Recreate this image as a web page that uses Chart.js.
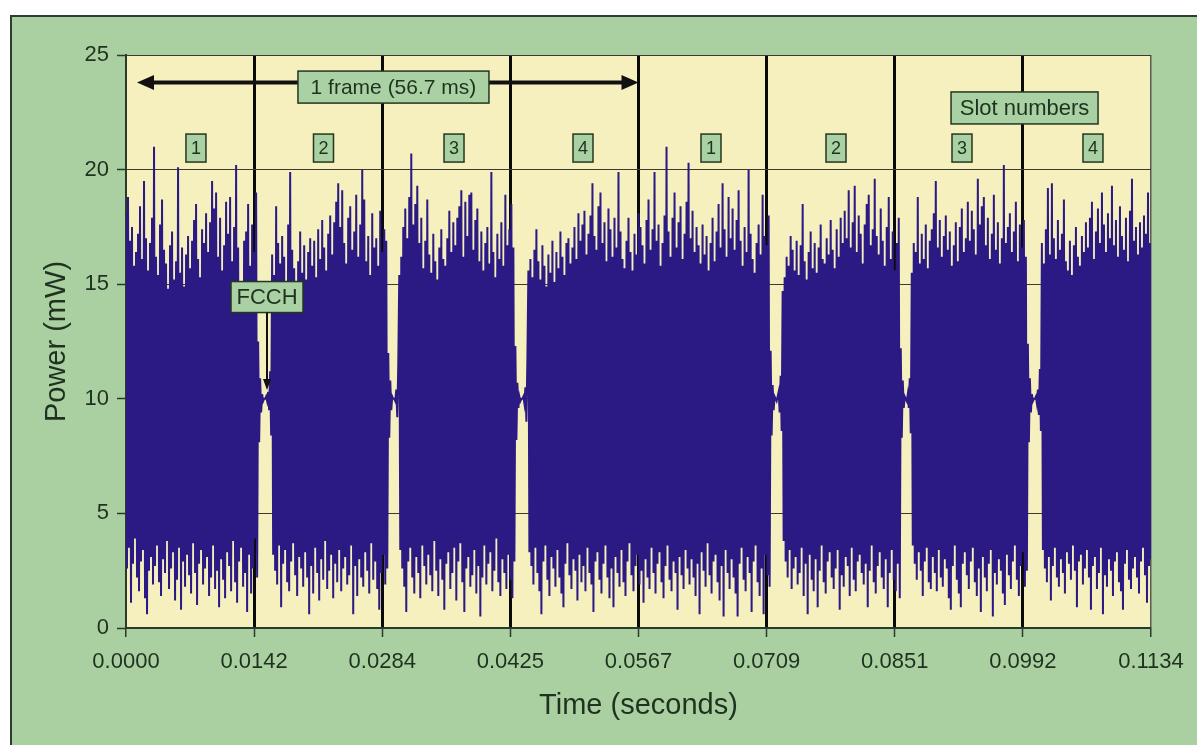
<!DOCTYPE html>
<html><head><meta charset="utf-8">
<script src="https://cdn.jsdelivr.net/npm/chart.js@4"></script>
<style>
html,body{margin:0;padding:0;background:#fff;}
#panel{position:absolute;left:10px;top:15px;width:1187px;height:730px;background:#aad0a2;border-top:2px solid #2e3e2e;border-left:2px solid #2e3e2e;box-sizing:border-box;}
canvas{display:block;}
</style></head><body>
<div id="panel"><canvas id="c" width="1185" height="728"></canvas></div>
<script>
// ---- data (power in mW, sampled uniformly in time) ----
const sampleInterval = 0.1134 / 1024; // seconds between samples
const burst1 = [
18.2,2.6, 18.8,3.5, 16.9,1.1, 17.5,2.8, 15.8,3.9, 16.4,2.2, 17.2,1.6, 18.4,2.9, 16.1,3.4, 19.5,1.3,
17.0,0.6, 15.6,2.5, 16.8,3.1, 17.9,1.9, 21.0,2.7, 16.2,3.6, 15.4,2.0, 17.6,1.4, 18.7,3.0, 16.5,2.4,
15.9,3.8, 14.8,1.7, 16.7,2.6, 17.3,3.3, 15.2,1.2, 16.0,2.1, 20.1,3.5, 15.5,0.8, 16.6,2.9, 14.9,1.8,
16.3,3.2, 17.1,2.3, 15.7,1.5, 16.9,3.7, 17.8,2.4, 18.5,1.0, 16.1,2.8, 15.3,3.4, 17.4,1.9, 16.8,2.6,
18.1,3.1, 16.4,1.4, 17.7,2.2, 19.5,3.6, 18.3,1.7, 19.0,2.5, 16.2,0.9, 17.9,3.0, 15.6,2.1, 16.7,1.3,
18.6,3.3, 17.2,2.7, 18.8,1.6, 16.0,3.8, 17.5,2.0, 20.2,1.1, 16.6,2.9, 15.1,3.5, 14.7,1.8, 16.9,2.4,
17.3,0.7, 18.5,3.2, 15.8,1.5, 17.6,2.6, 16.4,3.9, 19.0,2.2];
const gap1 = [12.5,8.1,10.9,9.4,10.2,9.9,10.0,10.0,10.1,9.9,10.3,9.5,11.2,8.4];
const burst2 = [
16.3,3.2, 15.4,2.5, 18.4,1.9, 16.8,3.6, 15.9,0.9, 17.1,2.8, 16.2,3.4, 15.0,2.0, 17.6,1.6, 19.9,2.9,
16.5,3.7, 15.7,2.3, 14.9,1.4, 16.0,3.1, 17.3,2.6, 15.5,1.8, 16.7,3.3, 15.2,2.2, 16.4,0.6, 17.0,2.7,
15.8,1.5, 16.9,3.5, 15.3,2.4, 17.4,1.2, 16.1,3.0, 17.8,2.1, 16.6,3.8, 15.6,1.7, 17.2,2.5, 18.0,3.2,
16.3,1.3, 17.7,2.8, 18.6,2.0, 19.4,3.4, 17.5,1.6, 19.1,2.6, 16.8,3.1, 15.9,1.9, 17.9,2.3, 18.4,3.6,
16.5,0.6, 17.3,2.7, 18.9,1.4, 16.2,3.0, 17.6,2.2, 20.0,1.8, 18.7,3.3, 16.0,2.5, 17.1,1.5, 15.4,3.7,
18.1,2.1, 16.6,2.9, 17.0,1.7, 15.8,0.8, 18.2,2.4, 16.4,3.2, 17.4,1.9, 16.9,2.6];
const gap2 = [12.0,8.3,10.8,9.5,10.1,10.0,10.0,9.9,10.4,9.2,11.5];
const burst3 = [
15.4,3.4, 16.2,2.6, 17.5,1.8, 18.3,0.7, 17.0,2.9, 18.8,3.5, 20.7,2.2, 17.6,1.5, 18.5,3.1, 19.3,2.4,
16.8,1.3, 17.9,3.6, 15.7,2.7, 16.9,1.9, 18.7,3.2, 16.3,2.3, 15.5,1.6, 17.2,3.8, 16.0,2.5, 15.2,1.4,
16.6,3.0, 17.4,2.1, 16.1,0.8, 15.8,2.8, 17.0,3.3, 18.2,1.7, 16.4,2.4, 17.7,3.5, 16.7,1.2, 17.9,2.9,
18.4,3.7, 19.1,2.0, 16.2,0.7, 18.6,2.6, 17.1,3.1, 18.9,1.8, 19.0,2.3, 16.5,3.4, 17.8,1.5, 18.3,2.7,
16.0,0.5, 17.3,2.2, 15.6,3.6, 16.8,1.9, 17.5,2.8, 15.9,3.3, 19.9,1.6, 16.4,2.5, 15.3,3.9, 17.2,2.0,
16.1,1.4, 17.7,3.0, 15.8,2.4, 18.9,1.7, 16.7,3.2, 17.4,2.1, 18.5,1.3, 16.6,2.9];
const gap3 = [12.3,8.2,10.7,9.6,10.1,9.9,10.0,10.0,10.1,9.8,10.5,9.0,11.8];
const burst4 = [
15.6,3.3, 16.1,2.7, 15.3,1.9, 16.5,3.5, 17.4,2.4, 16.0,1.6, 15.2,0.6, 16.7,2.9, 15.8,3.6, 14.9,2.1,
16.3,1.4, 15.5,3.1, 16.9,2.6, 15.1,1.8, 16.4,3.4, 15.7,2.2, 17.3,1.5, 16.2,0.9, 15.4,2.8, 16.8,3.7,
17.0,2.3, 15.9,1.7, 16.6,3.0, 17.5,2.5, 16.1,1.2, 18.1,3.2, 16.9,2.0, 17.6,2.7, 18.2,1.6, 16.3,3.5,
17.2,2.4, 18.0,1.9, 19.4,0.7, 17.1,2.9, 16.5,3.3, 18.4,2.1, 19.0,1.5, 16.8,2.8, 17.7,3.6, 16.0,2.2,
18.3,1.3, 17.4,2.6, 16.2,0.9, 17.9,3.1, 16.6,2.4, 19.9,1.8, 17.3,3.4, 16.1,2.0, 15.7,1.4, 16.9,2.9,
17.9,3.7, 16.4,2.3, 15.6,1.6, 17.2,2.7, 16.3,3.2, 18.1,1.9, 17.5,2.5, 16.7,1.1, 15.9,3.0, 17.8,2.2,
18.7,1.7, 16.5,3.5, 17.4,2.4, 19.9,1.5, 16.9,2.8, 17.6,3.3, 15.8,2.0, 16.8,1.3, 18.0,2.7, 21.0,3.6,
17.3,2.1, 16.2,1.6, 17.9,2.9, 19.0,2.4, 16.6,0.8, 17.7,3.1, 18.4,2.3, 16.1,1.7, 17.2,3.4, 18.6,2.6,
20.3,1.9, 17.0,3.0, 18.2,2.2, 16.4,1.4, 17.5,2.8, 16.7,0.6, 15.9,3.3, 17.6,2.5, 16.3,1.8, 17.1,3.7,
15.6,2.3, 16.8,1.5, 17.9,2.9, 16.0,3.2, 17.3,2.0, 18.5,1.2, 16.6,2.7, 19.4,0.5, 17.4,3.4, 16.2,2.4,
18.8,1.7, 17.0,3.0, 18.3,2.2, 16.5,1.5, 17.8,0.5, 19.1,2.8, 16.9,3.5, 15.8,2.1, 17.5,1.6, 16.4,3.1,
20.0,2.4, 17.2,0.7, 16.1,2.9, 15.5,3.6, 16.8,2.0, 17.6,1.4, 16.3,2.6, 18.9,0.6, 17.1,3.2, 16.7,2.3,
18.0,1.8];
const gap4 = [12.1,8.4,10.6,9.5,10.1,10.0,9.9,10.1,10.3,9.4,11.0,8.6];
const burst5 = [
14.7,3.8, 15.3,2.9, 16.2,2.2, 15.8,3.4, 17.1,1.7, 16.5,2.6, 15.6,3.1, 16.9,1.9, 15.4,2.4, 16.7,3.5,
18.5,1.4, 16.0,2.8, 15.2,0.6, 16.4,3.2, 17.3,2.1, 15.7,1.6, 16.8,3.0, 15.5,0.9, 16.6,2.5, 17.6,3.6,
16.1,2.0, 15.9,1.5, 17.0,2.9, 16.3,3.3, 17.8,2.2, 16.5,1.7, 15.7,2.6, 17.4,3.4, 16.2,0.8, 17.9,2.3,
16.8,1.8, 18.2,3.1, 17.0,2.7, 19.1,1.4, 16.6,3.5, 17.7,2.1, 19.3,1.6, 16.4,2.9, 18.0,3.2, 17.2,2.4,
15.9,1.9, 17.6,2.8, 18.5,0.9, 18.9,2.5, 16.7,3.6, 17.4,2.0, 19.6,1.5, 17.1,2.7, 16.3,3.3, 18.3,2.2,
16.9,1.7, 15.8,3.0, 17.5,0.9, 18.8,2.4, 16.1,3.4, 17.3,2.1, 15.6,1.6, 16.8,2.8, 17.9,1.3];
const gap5 = [12.2,8.3,10.8,9.6,10.1,10.0,9.9,10.2,9.6,10.9,8.5];
const burst6 = [
15.5,3.6, 16.8,2.8, 16.4,2.1, 18.8,3.3, 15.9,2.5, 17.2,1.4, 16.1,2.9, 17.6,3.5, 15.7,2.0, 16.9,1.7,
17.4,3.1, 18.1,2.4, 19.5,1.6, 16.6,3.4, 17.8,2.2, 16.2,1.8, 17.1,3.0, 18.0,2.6, 16.5,1.3, 17.3,0.8,
15.8,2.7, 16.7,3.6, 17.7,2.1, 16.0,1.5, 17.5,0.9, 18.3,2.8, 16.4,3.3, 17.0,2.3, 18.6,1.7, 16.9,2.9,
18.2,3.5, 17.4,2.0, 16.3,1.4, 19.6,2.6, 17.6,0.7, 18.4,3.1, 18.8,2.2, 16.7,1.6, 17.9,2.8, 16.1,3.4,
17.2,0.5, 18.9,2.4, 16.5,1.9, 17.7,3.0, 15.9,2.5, 17.0,1.5, 20.2,1.0, 16.8,3.2, 17.5,2.3, 18.1,1.7,
16.4,2.9, 17.3,3.6, 18.6,2.1, 16.0,1.4, 17.6,2.7, 16.6,3.3, 17.8,1.8, 16.2,2.5];
const gap6 = [12.4,8.1,10.9,9.4,10.2,9.9,10.0,10.0,10.1,9.8,10.4,9.3,11.3,8.6];
const burst7 = [
16.8,3.4, 15.9,2.6, 17.4,2.0, 19.2,3.1, 16.3,1.2, 19.4,2.7, 17.0,3.5, 16.1,2.2, 17.8,1.8, 16.5,3.0,
17.2,2.4, 18.7,1.5, 16.0,3.3, 15.6,2.8, 16.9,2.1, 15.4,3.6, 16.7,2.5, 17.5,0.9, 16.2,2.9, 15.8,3.2,
17.1,1.9, 16.4,2.6, 17.7,3.4, 16.6,2.2, 17.9,0.8, 18.6,2.7, 16.1,3.1, 17.3,1.7, 18.3,2.4, 16.8,3.5,
19.0,0.6, 17.6,2.3, 16.4,1.8, 18.1,3.0, 17.0,2.5, 19.3,1.4, 16.7,2.9, 17.8,3.3, 16.2,2.0, 18.4,1.6,
17.1,0.8, 16.5,2.8, 17.9,3.4, 16.0,2.1, 18.2,1.7, 19.6,2.6, 16.9,3.1, 17.5,2.2, 16.3,1.5, 17.7,2.9,
16.6,3.5, 18.0,2.3, 17.2,1.1, 19.0,2.7, 16.8,3.0];

const xTickValues = [0, 0.0141750, 0.0283500, 0.0425250, 0.0567000, 0.0708750, 0.0850500, 0.0992250, 0.1134];
const xTickLabels = ['0.0000','0.0142','0.0284','0.0425','0.0567','0.0709','0.0851','0.0992','0.1134'];
const yTickValues = [0, 5, 10, 15, 20, 25];

// annotations (data coordinates: seconds, mW)
const frameArrow = {from: 0.00122, to: 0.0567, level: 23.8};
const frameLabel = {text: '1 frame (56.7 ms)', t: 0.02959, level: 23.6};
const slotLabels = ['1','2','3','4','1','2','3','4'];
const slotLabelTimes = [0.00774, 0.02185, 0.03629, 0.05056, 0.06472, 0.07855, 0.09249, 0.10698];
const slotLabelLevel = 20.94;
const slotTitle = {text: 'Slot numbers', t: 0.09941, level: 22.69};
const fcch = {text: 'FCCH', t: 0.0156, level: 14.44, arrowTo: 10.38};

// ---- build series ----
const power = [].concat(burst1, gap1, burst2, gap2, burst3, gap3, burst4, gap4, burst5, gap5, burst6, gap6, burst7);
const points = power.map((v, i) => ({x: i * sampleInterval, y: v}));

const TEXT = '#1f321f';
const FONT = "'Liberation Sans', Arial, sans-serif";
const BOXFILL = '#a9d1a3';
const BOXLINE = '#24361f';

function drawBox(ctx, cx, cy, text, size, w, h) {
  ctx.save();
  ctx.font = size + 'px ' + FONT;
  const tw = ctx.measureText(text).width;
  const bw = w || (tw + 12);
  ctx.fillStyle = BOXFILL;
  ctx.strokeStyle = BOXLINE;
  ctx.lineWidth = 1.5;
  ctx.fillRect(cx - bw/2, cy - h/2, bw, h);
  ctx.strokeRect(cx - bw/2, cy - h/2, bw, h);
  ctx.fillStyle = TEXT;
  ctx.textAlign = 'center';
  ctx.textBaseline = 'middle';
  ctx.fillText(text, cx, cy + 1);
  ctx.restore();
  return {top: cy - h/2, bottom: cy + h/2};
}
function arrowHead(ctx, x, y, dx, dy, len, half) {
  ctx.beginPath();
  ctx.moveTo(x, y);
  ctx.lineTo(x - dx*len - dy*half, y - dy*len + dx*half);
  ctx.lineTo(x - dx*len + dy*half, y - dy*len - dx*half);
  ctx.closePath();
  ctx.fill();
}

const decor = {
  id: 'decor',
  beforeDraw(chart) {
    const {ctx, chartArea: a} = chart;
    ctx.save();
    ctx.fillStyle = '#aad0a2';
    ctx.fillRect(0, 0, chart.width, chart.height);
    ctx.fillStyle = '#f6f0be';
    ctx.fillRect(a.left, a.top, a.right - a.left, a.bottom - a.top);
    ctx.restore();
  },
  afterDatasetsDraw(chart) {
    const {ctx} = chart;
    const xs = chart.scales.x, ys = chart.scales.y;
    // frame arrow
    const x1 = xs.getPixelForValue(frameArrow.from), x2 = xs.getPixelForValue(frameArrow.to);
    const ay = ys.getPixelForValue(frameArrow.level);
    ctx.save();
    ctx.strokeStyle = '#111'; ctx.fillStyle = '#111';
    ctx.lineWidth = 4;
    ctx.beginPath(); ctx.moveTo(x1 + 12, ay); ctx.lineTo(x2 - 12, ay); ctx.stroke();
    arrowHead(ctx, x1, ay, -1, 0, 17, 7.5);
    arrowHead(ctx, x2, ay, 1, 0, 17, 7.5);
    ctx.restore();
    drawBox(ctx, xs.getPixelForValue(frameLabel.t), ys.getPixelForValue(frameLabel.level), frameLabel.text, 21, 191, 32);
    // slot labels
    slotLabels.forEach((s, i) => {
      drawBox(ctx, xs.getPixelForValue(slotLabelTimes[i]), ys.getPixelForValue(slotLabelLevel), s, 18, 20, 28);
    });
    drawBox(ctx, xs.getPixelForValue(slotTitle.t), ys.getPixelForValue(slotTitle.level), slotTitle.text, 22, 147, 32);
    // FCCH
    const fx = xs.getPixelForValue(fcch.t);
    const b = drawBox(ctx, fx, ys.getPixelForValue(fcch.level), fcch.text, 22, 72, 31);
    const tipY = ys.getPixelForValue(fcch.arrowTo);
    ctx.save();
    ctx.strokeStyle = '#111'; ctx.fillStyle = '#111'; ctx.lineWidth = 2;
    ctx.beginPath(); ctx.moveTo(fx, b.bottom); ctx.lineTo(fx, tipY - 8); ctx.stroke();
    arrowHead(ctx, fx, tipY, 0, 1, 11, 4);
    ctx.restore();
  }
};

new Chart(document.getElementById('c'), {
  type: 'line',
  data: {datasets: [{
    data: points,
    borderColor: '#2c1a84',
    borderWidth: 2,
    pointRadius: 0,
    tension: 0,
    fill: false
  }]},
  options: {
    responsive: false,
    animation: false,
    events: [],
    parsing: false,
    layout: {padding: {left: 0, top: 38, right: 46, bottom: 0}},
    plugins: {legend: {display: false}, tooltip: {enabled: false}},
    scales: {
      x: {
        type: 'linear', min: 0, max: 0.1134,
        afterBuildTicks: s => { s.ticks = xTickValues.map(v => ({value: v})); },
        afterFit: s => { s.height = 117; },
        ticks: {
          autoSkip: false, maxRotation: 0, padding: 12,
          color: TEXT, font: {family: FONT, size: 22},
          callback: (v, i) => xTickLabels[i]
        },
        grid: {
          color: c => c.index === 0 ? '#2b3a2b' : (c.index === xTickValues.length - 1 ? '#5a5a50' : '#0a0a0a'),
          lineWidth: c => (c.index === 0 || c.index === xTickValues.length - 1) ? 1.5 : 3,
          tickColor: '#2b3a2b', tickWidth: 1.5, tickLength: 9
        },
        border: {color: '#2b3a2b', width: 2},
        title: {display: true, text: 'Time (seconds)', color: TEXT, font: {family: FONT, size: 29}, padding: {top: 0, bottom: 22}}
      },
      y: {
        min: 0, max: 25,
        afterBuildTicks: s => { s.ticks = yTickValues.map(v => ({value: v})); },
        afterFit: s => { s.width = 114; },
        ticks: {padding: 8, color: TEXT, font: {family: FONT, size: 22}},
        grid: {color: '#3b3b30', lineWidth: 1, tickColor: '#2b3a2b', tickWidth: 1.5, tickLength: 9},
        border: {color: '#2b3a2b', width: 2},
        title: {display: true, text: 'Power (mW)', color: TEXT, font: {family: FONT, size: 29}, padding: {top: 28, bottom: 0}}
      }
    }
  },
  plugins: [decor]
});
</script>
</body></html>
